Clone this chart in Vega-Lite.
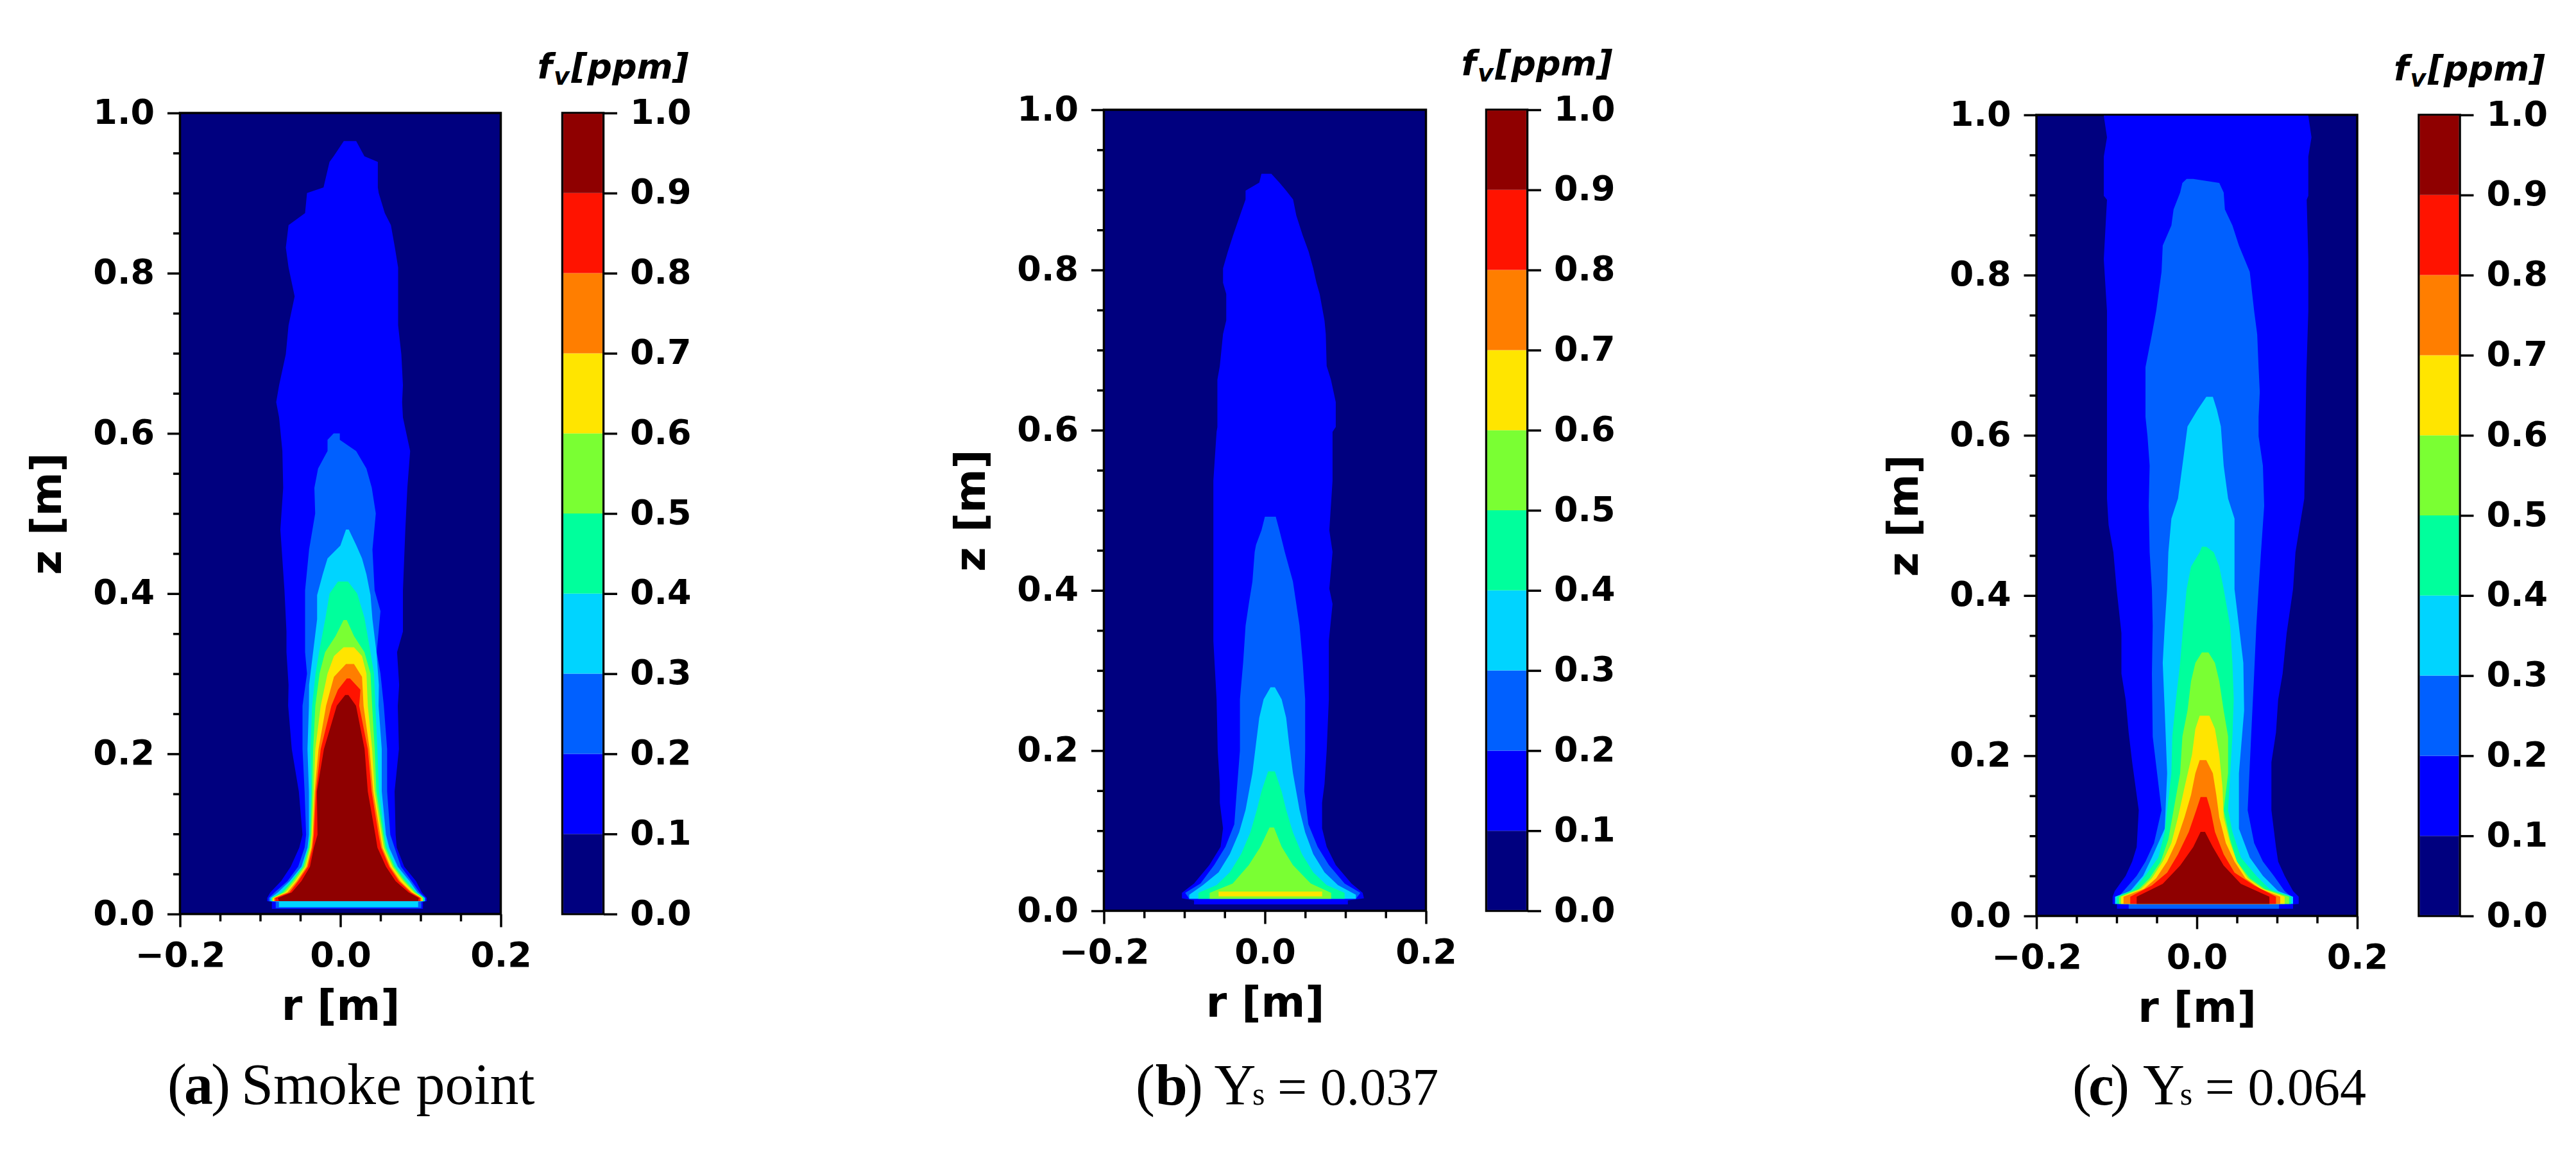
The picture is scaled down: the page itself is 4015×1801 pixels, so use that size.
{"$schema":"https://vega.github.io/schema/vega-lite/v6.json","background":"white","padding":{"left":39.5,"top":72,"right":0,"bottom":0},"bounds":"flush","spacing":2893.5,"config":{"view":{"stroke":null},"text":{"font":"Liberation Serif","fontSize":90,"align":"left","baseline":"alphabetic","color":"#000"},"axis":{"labelFont":"DejaVu Sans","labelFontWeight":"bold","labelFontSize":54,"labelColor":"#000","titleFont":"DejaVu Sans","titleFontWeight":"bold","titleFontSize":66,"titleColor":"#000","tickColor":"#000","tickWidth":3.5,"domain":false,"grid":false,"labelOverlap":false,"labelBound":false,"labelFlush":false,"tickRound":false}},"datasets":{"one":[{}],"colorbar":[{"fv":0,"low":0.001,"high":0.1},{"fv":0.1,"low":0.1,"high":0.2},{"fv":0.2,"low":0.2,"high":0.3},{"fv":0.3,"low":0.3,"high":0.4},{"fv":0.4,"low":0.4,"high":0.5},{"fv":0.5,"low":0.5,"high":0.6},{"fv":0.6,"low":0.6,"high":0.7},{"fv":0.7,"low":0.7,"high":0.8},{"fv":0.8,"low":0.8,"high":0.9},{"fv":0.9,"low":0.9,"high":0.999}],
"smoke_point":[
{"fv":0.1,"z":0.965,"rmin":0.0043,"rmax":0.0197},{"fv":0.1,"z":0.946,"rmin":-0.0084,"rmax":0.03},{"fv":0.1,"z":0.939,"rmin":-0.0135,"rmax":0.0467},{"fv":0.1,"z":0.907,"rmin":-0.021,"rmax":0.0467},{"fv":0.1,"z":0.9,"rmin":-0.0416,"rmax":0.0478},{"fv":0.1,"z":0.875,"rmin":-0.044,"rmax":0.0554},{"fv":0.1,"z":0.86,"rmin":-0.0646,"rmax":0.063},{"fv":0.1,"z":0.832,"rmin":-0.068,"rmax":0.068},{"fv":0.1,"z":0.807,"rmin":-0.0646,"rmax":0.072},{"fv":0.1,"z":0.771,"rmin":-0.057,"rmax":0.072},{"fv":0.1,"z":0.735,"rmin":-0.0646,"rmax":0.072},{"fv":0.1,"z":0.699,"rmin":-0.068,"rmax":0.076},{"fv":0.1,"z":0.66,"rmin":-0.0764,"rmax":0.078},{"fv":0.1,"z":0.639,"rmin":-0.08,"rmax":0.077},{"fv":0.1,"z":0.62,"rmin":-0.0764,"rmax":0.078},{"fv":0.1,"z":0.578,"rmin":-0.0723,"rmax":0.087},{"fv":0.1,"z":0.532,"rmin":-0.0713,"rmax":0.0835},{"fv":0.1,"z":0.48,"rmin":-0.0748,"rmax":0.081},{"fv":0.1,"z":0.404,"rmin":-0.0697,"rmax":0.078},{"fv":0.1,"z":0.3525,"rmin":-0.0672,"rmax":0.078},{"fv":0.1,"z":0.327,"rmin":-0.0672,"rmax":0.0707},{"fv":0.1,"z":0.286,"rmin":-0.0646,"rmax":0.0733},{"fv":0.1,"z":0.26,"rmin":-0.0651,"rmax":0.0716},{"fv":0.1,"z":0.206,"rmin":-0.0606,"rmax":0.073},{"fv":0.1,"z":0.153,"rmin":-0.0518,"rmax":0.0676},{"fv":0.1,"z":0.099,"rmin":-0.0472,"rmax":0.0689},{"fv":0.1,"z":0.083,"rmin":-0.0512,"rmax":0.0703},{"fv":0.1,"z":0.059,"rmin":-0.0619,"rmax":0.0796},{"fv":0.1,"z":0.041,"rmin":-0.0739,"rmax":0.0943},{"fv":0.1,"z":0.027,"rmin":-0.0873,"rmax":0.1015},{"fv":0.1,"z":0.02,"rmin":-0.0913,"rmax":0.1077},{"fv":0.1,"z":0.016,"rmin":-0.0913,"rmax":0.1077},{"fv":0.1,"z":0.0155,"rmin":-0.0854,"rmax":0.103},{"fv":0.1,"z":0.0065,"rmin":-0.0854,"rmax":0.103},
{"fv":0.2,"z":0.6,"rmin":-0.0084,"rmax":-0.0007},{"fv":0.2,"z":0.592,"rmin":-0.016,"rmax":-0.0007},{"fv":0.2,"z":0.578,"rmin":-0.016,"rmax":0.0197},{"fv":0.2,"z":0.556,"rmin":-0.0278,"rmax":0.0325},{"fv":0.2,"z":0.532,"rmin":-0.0324,"rmax":0.0392},{"fv":0.2,"z":0.5,"rmin":-0.0314,"rmax":0.0442},{"fv":0.2,"z":0.455,"rmin":-0.039,"rmax":0.04},{"fv":0.2,"z":0.404,"rmin":-0.044,"rmax":0.0427},{"fv":0.2,"z":0.378,"rmin":-0.044,"rmax":0.05},{"fv":0.2,"z":0.327,"rmin":-0.044,"rmax":0.0453},{"fv":0.2,"z":0.3,"rmin":-0.0416,"rmax":0.05},{"fv":0.2,"z":0.26,"rmin":-0.0472,"rmax":0.0542},{"fv":0.2,"z":0.206,"rmin":-0.0472,"rmax":0.0583},{"fv":0.2,"z":0.153,"rmin":-0.0446,"rmax":0.0583},{"fv":0.2,"z":0.099,"rmin":-0.0427,"rmax":0.0623},{"fv":0.2,"z":0.083,"rmin":-0.0446,"rmax":0.0676},{"fv":0.2,"z":0.059,"rmin":-0.0526,"rmax":0.0756},{"fv":0.2,"z":0.041,"rmin":-0.0659,"rmax":0.0889},{"fv":0.2,"z":0.027,"rmin":-0.0819,"rmax":0.0988},{"fv":0.2,"z":0.02,"rmin":-0.0894,"rmax":0.1063},{"fv":0.2,"z":0.016,"rmin":-0.0894,"rmax":0.1063},{"fv":0.2,"z":0.0155,"rmin":-0.0806,"rmax":0.101},{"fv":0.2,"z":0.0075,"rmin":-0.0806,"rmax":0.101},
{"fv":0.3,"z":0.48,"rmin":0.007,"rmax":0.0105},{"fv":0.3,"z":0.46,"rmin":0,"rmax":0.02},{"fv":0.3,"z":0.444,"rmin":-0.016,"rmax":0.027},{"fv":0.3,"z":0.424,"rmin":-0.022,"rmax":0.0325},{"fv":0.3,"z":0.398,"rmin":-0.029,"rmax":0.0376},{"fv":0.3,"z":0.368,"rmin":-0.029,"rmax":0.04},{"fv":0.3,"z":0.327,"rmin":-0.034,"rmax":0.045},{"fv":0.3,"z":0.286,"rmin":-0.039,"rmax":0.048},{"fv":0.3,"z":0.26,"rmin":-0.0392,"rmax":0.0476},{"fv":0.3,"z":0.206,"rmin":-0.041,"rmax":0.0516},{"fv":0.3,"z":0.153,"rmin":-0.0392,"rmax":0.0516},{"fv":0.3,"z":0.099,"rmin":-0.0392,"rmax":0.0569},{"fv":0.3,"z":0.083,"rmin":-0.041,"rmax":0.0609},{"fv":0.3,"z":0.059,"rmin":-0.0486,"rmax":0.0716},{"fv":0.3,"z":0.041,"rmin":-0.0632,"rmax":0.0863},{"fv":0.3,"z":0.027,"rmin":-0.0779,"rmax":0.0962},{"fv":0.3,"z":0.02,"rmin":-0.0873,"rmax":0.1052},{"fv":0.3,"z":0.016,"rmin":-0.0873,"rmax":0.1052},{"fv":0.3,"z":0.0155,"rmin":-0.0766,"rmax":0.097},{"fv":0.3,"z":0.0086,"rmin":-0.0766,"rmax":0.097},
{"fv":0.4,"z":0.415,"rmin":-0.003,"rmax":0.0095},{"fv":0.4,"z":0.4,"rmin":-0.0135,"rmax":0.021},{"fv":0.4,"z":0.37,"rmin":-0.0185,"rmax":0.03},{"fv":0.4,"z":0.33,"rmin":-0.026,"rmax":0.037},{"fv":0.4,"z":0.3,"rmin":-0.031,"rmax":0.042},{"fv":0.4,"z":0.26,"rmin":-0.0352,"rmax":0.0436},{"fv":0.4,"z":0.206,"rmin":-0.0373,"rmax":0.0462},{"fv":0.4,"z":0.153,"rmin":-0.0365,"rmax":0.0481},{"fv":0.4,"z":0.099,"rmin":-0.0381,"rmax":0.055},{"fv":0.4,"z":0.083,"rmin":-0.04,"rmax":0.0583},{"fv":0.4,"z":0.059,"rmin":-0.0472,"rmax":0.0689},{"fv":0.4,"z":0.041,"rmin":-0.0614,"rmax":0.0831},{"fv":0.4,"z":0.027,"rmin":-0.0739,"rmax":0.0951},{"fv":0.4,"z":0.02,"rmin":-0.0859,"rmax":0.1042},{"fv":0.4,"z":0.016,"rmin":-0.0859,"rmax":0.1042},
{"fv":0.5,"z":0.367,"rmin":0.004,"rmax":0.008},{"fv":0.5,"z":0.347,"rmin":-0.006,"rmax":0.017},{"fv":0.5,"z":0.327,"rmin":-0.019,"rmax":0.03},{"fv":0.5,"z":0.3,"rmin":-0.026,"rmax":0.0376},{"fv":0.5,"z":0.26,"rmin":-0.0312,"rmax":0.0396},{"fv":0.5,"z":0.206,"rmin":-0.0339,"rmax":0.0428},{"fv":0.5,"z":0.153,"rmin":-0.0352,"rmax":0.0449},{"fv":0.5,"z":0.099,"rmin":-0.0371,"rmax":0.0534},{"fv":0.5,"z":0.083,"rmin":-0.0389,"rmax":0.0561},{"fv":0.5,"z":0.059,"rmin":-0.0459,"rmax":0.0668},{"fv":0.5,"z":0.041,"rmin":-0.0592,"rmax":0.0804},{"fv":0.5,"z":0.027,"rmin":-0.0712,"rmax":0.0935},{"fv":0.5,"z":0.02,"rmin":-0.0851,"rmax":0.1031},{"fv":0.5,"z":0.016,"rmin":-0.0851,"rmax":0.1031},
{"fv":0.6,"z":0.333,"rmin":0.004,"rmax":0.017},{"fv":0.6,"z":0.322,"rmin":-0.008,"rmax":0.027},{"fv":0.6,"z":0.3,"rmin":-0.016,"rmax":0.0325},{"fv":0.6,"z":0.26,"rmin":-0.0245,"rmax":0.0342},{"fv":0.6,"z":0.206,"rmin":-0.0312,"rmax":0.0396},{"fv":0.6,"z":0.153,"rmin":-0.0331,"rmax":0.0428},{"fv":0.6,"z":0.099,"rmin":-0.0357,"rmax":0.0516},{"fv":0.6,"z":0.083,"rmin":-0.0373,"rmax":0.0542},{"fv":0.6,"z":0.059,"rmin":-0.0437,"rmax":0.0649},{"fv":0.6,"z":0.041,"rmin":-0.0566,"rmax":0.0783},{"fv":0.6,"z":0.027,"rmin":-0.0686,"rmax":0.0916},{"fv":0.6,"z":0.02,"rmin":-0.0841,"rmax":0.1023},{"fv":0.6,"z":0.016,"rmin":-0.0841,"rmax":0.1023},
{"fv":0.7,"z":0.312,"rmin":0.007,"rmax":0.017},{"fv":0.7,"z":0.296,"rmin":-0.008,"rmax":0.027},{"fv":0.7,"z":0.26,"rmin":-0.0178,"rmax":0.0289},{"fv":0.7,"z":0.206,"rmin":-0.0272,"rmax":0.0364},{"fv":0.7,"z":0.153,"rmin":-0.032,"rmax":0.0409},{"fv":0.7,"z":0.099,"rmin":-0.0344,"rmax":0.0497},{"fv":0.7,"z":0.083,"rmin":-0.036,"rmax":0.0524},{"fv":0.7,"z":0.059,"rmin":-0.0421,"rmax":0.0625},{"fv":0.7,"z":0.041,"rmin":-0.0544,"rmax":0.0748},{"fv":0.7,"z":0.027,"rmin":-0.0659,"rmax":0.0892},{"fv":0.7,"z":0.02,"rmin":-0.0827,"rmax":0.101},{"fv":0.7,"z":0.016,"rmin":-0.0827,"rmax":0.101},
{"fv":0.8,"z":0.294,"rmin":0.008,"rmax":0.012},{"fv":0.8,"z":0.28,"rmin":-0.003,"rmax":0.025},{"fv":0.8,"z":0.26,"rmin":-0.0112,"rmax":0.0235},{"fv":0.8,"z":0.206,"rmin":-0.0245,"rmax":0.0342},{"fv":0.8,"z":0.153,"rmin":-0.0304,"rmax":0.039},{"fv":0.8,"z":0.099,"rmin":-0.0331,"rmax":0.0476},{"fv":0.8,"z":0.083,"rmin":-0.0347,"rmax":0.0508},{"fv":0.8,"z":0.059,"rmin":-0.0405,"rmax":0.0609},{"fv":0.8,"z":0.041,"rmin":-0.0526,"rmax":0.0729},{"fv":0.8,"z":0.027,"rmin":-0.0632,"rmax":0.0876},{"fv":0.8,"z":0.02,"rmin":-0.0811,"rmax":0.0996},{"fv":0.8,"z":0.016,"rmin":-0.0811,"rmax":0.0996},
{"fv":0.9,"z":0.2735,"rmin":0.006,"rmax":0.01},{"fv":0.9,"z":0.26,"rmin":-0.0045,"rmax":0.0195},{"fv":0.9,"z":0.206,"rmin":-0.0205,"rmax":0.0302},{"fv":0.9,"z":0.153,"rmin":-0.0293,"rmax":0.0342},{"fv":0.9,"z":0.099,"rmin":-0.0285,"rmax":0.0436},{"fv":0.9,"z":0.083,"rmin":-0.0331,"rmax":0.0462},{"fv":0.9,"z":0.059,"rmin":-0.0379,"rmax":0.0569},{"fv":0.9,"z":0.041,"rmin":-0.0486,"rmax":0.0689},{"fv":0.9,"z":0.027,"rmin":-0.0606,"rmax":0.085},{"fv":0.9,"z":0.02,"rmin":-0.0779,"rmax":0.0978},{"fv":0.9,"z":0.016,"rmin":-0.0766,"rmax":0.097}],
"ys_037":[
{"fv":0.1,"z":0.92,"rmin":-0.0043,"rmax":0.008},{"fv":0.1,"z":0.909,"rmin":-0.007,"rmax":0.018},{"fv":0.1,"z":0.899,"rmin":-0.024,"rmax":0.0264},{"fv":0.1,"z":0.888,"rmin":-0.024,"rmax":0.035},{"fv":0.1,"z":0.868,"rmin":-0.031,"rmax":0.039},{"fv":0.1,"z":0.843,"rmin":-0.0396,"rmax":0.047},{"fv":0.1,"z":0.823,"rmin":-0.046,"rmax":0.0543},{"fv":0.1,"z":0.802,"rmin":-0.052,"rmax":0.06},{"fv":0.1,"z":0.784,"rmin":-0.052,"rmax":0.064},{"fv":0.1,"z":0.77,"rmin":-0.048,"rmax":0.068},{"fv":0.1,"z":0.737,"rmin":-0.048,"rmax":0.074},{"fv":0.1,"z":0.72,"rmin":-0.052,"rmax":0.0756},{"fv":0.1,"z":0.68,"rmin":-0.056,"rmax":0.0767},{"fv":0.1,"z":0.663,"rmin":-0.059,"rmax":0.082},{"fv":0.1,"z":0.635,"rmin":-0.059,"rmax":0.088},{"fv":0.1,"z":0.604,"rmin":-0.059,"rmax":0.088},{"fv":0.1,"z":0.598,"rmin":-0.06,"rmax":0.084},{"fv":0.1,"z":0.537,"rmin":-0.064,"rmax":0.084},{"fv":0.1,"z":0.475,"rmin":-0.064,"rmax":0.08},{"fv":0.1,"z":0.448,"rmin":-0.064,"rmax":0.084},{"fv":0.1,"z":0.402,"rmin":-0.064,"rmax":0.08},{"fv":0.1,"z":0.383,"rmin":-0.064,"rmax":0.084},{"fv":0.1,"z":0.337,"rmin":-0.064,"rmax":0.0794},{"fv":0.1,"z":0.264,"rmin":-0.06,"rmax":0.0794},{"fv":0.1,"z":0.2,"rmin":-0.0586,"rmax":0.0767},{"fv":0.1,"z":0.158,"rmin":-0.056,"rmax":0.074},{"fv":0.1,"z":0.135,"rmin":-0.056,"rmax":0.071},{"fv":0.1,"z":0.103,"rmin":-0.052,"rmax":0.071},{"fv":0.1,"z":0.08,"rmin":-0.055,"rmax":0.0767},{"fv":0.1,"z":0.057,"rmin":-0.069,"rmax":0.088},{"fv":0.1,"z":0.034,"rmin":-0.088,"rmax":0.1075},{"fv":0.1,"z":0.0225,"rmin":-0.103,"rmax":0.1214},{"fv":0.1,"z":0.0156,"rmin":-0.103,"rmax":0.123},{"fv":0.1,"z":0.013,"rmin":-0.088,"rmax":0.103},{"fv":0.1,"z":0.008,"rmin":-0.088,"rmax":0.103},
{"fv":0.2,"z":0.492,"rmin":0,"rmax":0.0135},{"fv":0.2,"z":0.475,"rmin":-0.0043,"rmax":0.018},{"fv":0.2,"z":0.457,"rmin":-0.011,"rmax":0.0225},{"fv":0.2,"z":0.448,"rmin":-0.0127,"rmax":0.0247},{"fv":0.2,"z":0.411,"rmin":-0.0155,"rmax":0.0348},{"fv":0.2,"z":0.383,"rmin":-0.02,"rmax":0.039},{"fv":0.2,"z":0.356,"rmin":-0.024,"rmax":0.043},{"fv":0.2,"z":0.31,"rmin":-0.027,"rmax":0.047},{"fv":0.2,"z":0.264,"rmin":-0.031,"rmax":0.05},{"fv":0.2,"z":0.2,"rmin":-0.031,"rmax":0.05},{"fv":0.2,"z":0.149,"rmin":-0.035,"rmax":0.049},{"fv":0.2,"z":0.108,"rmin":-0.038,"rmax":0.054},{"fv":0.2,"z":0.08,"rmin":-0.049,"rmax":0.0655},{"fv":0.2,"z":0.057,"rmin":-0.063,"rmax":0.0795},{"fv":0.2,"z":0.034,"rmin":-0.08,"rmax":0.099},{"fv":0.2,"z":0.0225,"rmin":-0.099,"rmax":0.1186},{"fv":0.2,"z":0.015,"rmin":-0.094,"rmax":0.113},
{"fv":0.3,"z":0.279,"rmin":0.007,"rmax":0.0124},{"fv":0.3,"z":0.264,"rmin":-0.0016,"rmax":0.0208},{"fv":0.3,"z":0.241,"rmin":-0.007,"rmax":0.0264},{"fv":0.3,"z":0.209,"rmin":-0.011,"rmax":0.03},{"fv":0.3,"z":0.172,"rmin":-0.0155,"rmax":0.0348},{"fv":0.3,"z":0.126,"rmin":-0.024,"rmax":0.043},{"fv":0.3,"z":0.098,"rmin":-0.032,"rmax":0.05},{"fv":0.3,"z":0.071,"rmin":-0.0435,"rmax":0.06},{"fv":0.3,"z":0.048,"rmin":-0.0575,"rmax":0.074},{"fv":0.3,"z":0.032,"rmin":-0.077,"rmax":0.0907},{"fv":0.3,"z":0.02,"rmin":-0.094,"rmax":0.113},{"fv":0.3,"z":0.015,"rmin":-0.094,"rmax":0.113},
{"fv":0.4,"z":0.174,"rmin":0.004,"rmax":0.0124},{"fv":0.4,"z":0.149,"rmin":-0.0043,"rmax":0.0208},{"fv":0.4,"z":0.126,"rmin":-0.01,"rmax":0.0264},{"fv":0.4,"z":0.098,"rmin":-0.018,"rmax":0.0348},{"fv":0.4,"z":0.071,"rmin":-0.0295,"rmax":0.046},{"fv":0.4,"z":0.048,"rmin":-0.0435,"rmax":0.06},{"fv":0.4,"z":0.032,"rmin":-0.06,"rmax":0.0767},{"fv":0.4,"z":0.0225,"rmin":-0.0826,"rmax":0.099},{"fv":0.4,"z":0.015,"rmin":-0.0826,"rmax":0.099},
{"fv":0.5,"z":0.104,"rmin":0.0057,"rmax":0.0113},{"fv":0.5,"z":0.08,"rmin":-0.0055,"rmax":0.0208},{"fv":0.5,"z":0.057,"rmin":-0.02,"rmax":0.0348},{"fv":0.5,"z":0.034,"rmin":-0.04,"rmax":0.057},{"fv":0.5,"z":0.0225,"rmin":-0.0686,"rmax":0.0823},{"fv":0.5,"z":0.015,"rmin":-0.0686,"rmax":0.0823},
{"fv":0.6,"z":0.024,"rmin":-0.0575,"rmax":0.0711},{"fv":0.6,"z":0.018,"rmin":-0.0575,"rmax":0.0711}],
"ys_064":[
{"fv":0.1,"z":0.999,"rmin":-0.116,"rmax":0.139},{"fv":0.1,"z":0.972,"rmin":-0.112,"rmax":0.143},{"fv":0.1,"z":0.948,"rmin":-0.116,"rmax":0.139},{"fv":0.1,"z":0.899,"rmin":-0.116,"rmax":0.139},{"fv":0.1,"z":0.894,"rmin":-0.112,"rmax":0.137},{"fv":0.1,"z":0.82,"rmin":-0.116,"rmax":0.139},{"fv":0.1,"z":0.755,"rmin":-0.112,"rmax":0.139},{"fv":0.1,"z":0.677,"rmin":-0.112,"rmax":0.1366},{"fv":0.1,"z":0.521,"rmin":-0.112,"rmax":0.134},{"fv":0.1,"z":0.488,"rmin":-0.11,"rmax":0.1285},{"fv":0.1,"z":0.454,"rmin":-0.104,"rmax":0.123},{"fv":0.1,"z":0.408,"rmin":-0.1,"rmax":0.12},{"fv":0.1,"z":0.353,"rmin":-0.094,"rmax":0.112},{"fv":0.1,"z":0.3025,"rmin":-0.094,"rmax":0.107},{"fv":0.1,"z":0.27,"rmin":-0.0887,"rmax":0.1014},{"fv":0.1,"z":0.229,"rmin":-0.085,"rmax":0.0987},{"fv":0.1,"z":0.192,"rmin":-0.0806,"rmax":0.093},{"fv":0.1,"z":0.132,"rmin":-0.0724,"rmax":0.093},{"fv":0.1,"z":0.086,"rmin":-0.075,"rmax":0.0987},{"fv":0.1,"z":0.068,"rmin":-0.0806,"rmax":0.1014},{"fv":0.1,"z":0.05,"rmin":-0.0887,"rmax":0.1095},{"fv":0.1,"z":0.031,"rmin":-0.1023,"rmax":0.12},{"fv":0.1,"z":0.024,"rmin":-0.105,"rmax":0.127},{"fv":0.1,"z":0.015,"rmin":-0.105,"rmax":0.127},{"fv":0.1,"z":0.0145,"rmin":-0.0995,"rmax":0.12},{"fv":0.1,"z":0.009,"rmin":-0.0995,"rmax":0.12},
{"fv":0.2,"z":0.92,"rmin":-0.0127,"rmax":-0.0045},{"fv":0.2,"z":0.915,"rmin":-0.018,"rmax":0.028},{"fv":0.2,"z":0.903,"rmin":-0.0208,"rmax":0.0335},{"fv":0.2,"z":0.882,"rmin":-0.029,"rmax":0.035},{"fv":0.2,"z":0.862,"rmin":-0.0317,"rmax":0.0444},{"fv":0.2,"z":0.837,"rmin":-0.0425,"rmax":0.0525},{"fv":0.2,"z":0.804,"rmin":-0.044,"rmax":0.066},{"fv":0.2,"z":0.755,"rmin":-0.0507,"rmax":0.0715},{"fv":0.2,"z":0.726,"rmin":-0.056,"rmax":0.0753},{"fv":0.2,"z":0.685,"rmin":-0.064,"rmax":0.077},{"fv":0.2,"z":0.654,"rmin":-0.064,"rmax":0.0785},{"fv":0.2,"z":0.623,"rmin":-0.064,"rmax":0.077},{"fv":0.2,"z":0.599,"rmin":-0.0615,"rmax":0.077},{"fv":0.2,"z":0.562,"rmin":-0.0588,"rmax":0.0824},{"fv":0.2,"z":0.512,"rmin":-0.06,"rmax":0.084},{"fv":0.2,"z":0.454,"rmin":-0.0588,"rmax":0.08},{"fv":0.2,"z":0.408,"rmin":-0.056,"rmax":0.077},{"fv":0.2,"z":0.362,"rmin":-0.055,"rmax":0.0742},{"fv":0.2,"z":0.3025,"rmin":-0.056,"rmax":0.0715},{"fv":0.2,"z":0.224,"rmin":-0.055,"rmax":0.0677},{"fv":0.2,"z":0.132,"rmin":-0.044,"rmax":0.0634},{"fv":0.2,"z":0.091,"rmin":-0.0534,"rmax":0.0715},{"fv":0.2,"z":0.068,"rmin":-0.064,"rmax":0.0824},{"fv":0.2,"z":0.05,"rmin":-0.075,"rmax":0.096},{"fv":0.2,"z":0.031,"rmin":-0.0914,"rmax":0.1095},{"fv":0.2,"z":0.022,"rmin":-0.0995,"rmax":0.12},{"fv":0.2,"z":0.0155,"rmin":-0.0995,"rmax":0.12},{"fv":0.2,"z":0.015,"rmin":-0.085,"rmax":0.1025},{"fv":0.2,"z":0.009,"rmin":-0.085,"rmax":0.1025},
{"fv":0.3,"z":0.648,"rmin":0.0118,"rmax":0.02},{"fv":0.3,"z":0.632,"rmin":0.001,"rmax":0.025},{"fv":0.3,"z":0.611,"rmin":-0.0116,"rmax":0.03},{"fv":0.3,"z":0.562,"rmin":-0.018,"rmax":0.0335},{"fv":0.3,"z":0.521,"rmin":-0.0235,"rmax":0.039},{"fv":0.3,"z":0.496,"rmin":-0.0317,"rmax":0.047},{"fv":0.3,"z":0.454,"rmin":-0.0355,"rmax":0.047},{"fv":0.3,"z":0.408,"rmin":-0.037,"rmax":0.047},{"fv":0.3,"z":0.362,"rmin":-0.04,"rmax":0.0525},{"fv":0.3,"z":0.316,"rmin":-0.0425,"rmax":0.058},{"fv":0.3,"z":0.2565,"rmin":-0.04,"rmax":0.059},{"fv":0.3,"z":0.178,"rmin":-0.037,"rmax":0.0525},{"fv":0.3,"z":0.109,"rmin":-0.04,"rmax":0.0525},{"fv":0.3,"z":0.073,"rmin":-0.056,"rmax":0.066},{"fv":0.3,"z":0.05,"rmin":-0.067,"rmax":0.0824},{"fv":0.3,"z":0.031,"rmin":-0.083,"rmax":0.1014},{"fv":0.3,"z":0.024,"rmin":-0.102,"rmax":0.12},{"fv":0.3,"z":0.015,"rmin":-0.102,"rmax":0.12},
{"fv":0.4,"z":0.461,"rmin":0.0063,"rmax":0.0118},{"fv":0.4,"z":0.454,"rmin":0.0036,"rmax":0.0212},{"fv":0.4,"z":0.436,"rmin":-0.0072,"rmax":0.028},{"fv":0.4,"z":0.408,"rmin":-0.0127,"rmax":0.0335},{"fv":0.4,"z":0.362,"rmin":-0.017,"rmax":0.0416},{"fv":0.4,"z":0.316,"rmin":-0.0208,"rmax":0.0444},{"fv":0.4,"z":0.27,"rmin":-0.026,"rmax":0.046},{"fv":0.4,"z":0.224,"rmin":-0.0306,"rmax":0.0444},{"fv":0.4,"z":0.178,"rmin":-0.0317,"rmax":0.0416},{"fv":0.4,"z":0.132,"rmin":-0.037,"rmax":0.039},{"fv":0.4,"z":0.105,"rmin":-0.04,"rmax":0.0444},{"fv":0.4,"z":0.073,"rmin":-0.048,"rmax":0.055},{"fv":0.4,"z":0.05,"rmin":-0.0643,"rmax":0.0742},{"fv":0.4,"z":0.0336,"rmin":-0.078,"rmax":0.0905},{"fv":0.4,"z":0.024,"rmin":-0.0995,"rmax":0.1177},{"fv":0.4,"z":0.015,"rmin":-0.0995,"rmax":0.1177},
{"fv":0.5,"z":0.329,"rmin":0.0063,"rmax":0.0145},{"fv":0.5,"z":0.316,"rmin":-0.0018,"rmax":0.0226},{"fv":0.5,"z":0.293,"rmin":-0.0072,"rmax":0.028},{"fv":0.5,"z":0.2565,"rmin":-0.0116,"rmax":0.0335},{"fv":0.5,"z":0.224,"rmin":-0.018,"rmax":0.039},{"fv":0.5,"z":0.178,"rmin":-0.0208,"rmax":0.039},{"fv":0.5,"z":0.132,"rmin":-0.029,"rmax":0.0335},{"fv":0.5,"z":0.0956,"rmin":-0.0355,"rmax":0.0416},{"fv":0.5,"z":0.068,"rmin":-0.045,"rmax":0.05},{"fv":0.5,"z":0.047,"rmin":-0.059,"rmax":0.066},{"fv":0.5,"z":0.0336,"rmin":-0.0724,"rmax":0.085},{"fv":0.5,"z":0.024,"rmin":-0.097,"rmax":0.115},{"fv":0.5,"z":0.015,"rmin":-0.097,"rmax":0.115},
{"fv":0.6,"z":0.25,"rmin":0.0036,"rmax":0.0156},{"fv":0.6,"z":0.2336,"rmin":-0.0018,"rmax":0.0226},{"fv":0.6,"z":0.2014,"rmin":-0.006,"rmax":0.028},{"fv":0.6,"z":0.16,"rmin":-0.0154,"rmax":0.032},{"fv":0.6,"z":0.123,"rmin":-0.0235,"rmax":0.0335},{"fv":0.6,"z":0.091,"rmin":-0.0317,"rmax":0.0416},{"fv":0.6,"z":0.068,"rmin":-0.0425,"rmax":0.05},{"fv":0.6,"z":0.047,"rmin":-0.056,"rmax":0.0634},{"fv":0.6,"z":0.0336,"rmin":-0.0697,"rmax":0.0824},{"fv":0.6,"z":0.024,"rmin":-0.0944,"rmax":0.1095},{"fv":0.6,"z":0.015,"rmin":-0.0944,"rmax":0.1095},
{"fv":0.7,"z":0.1945,"rmin":0.0036,"rmax":0.0118},{"fv":0.7,"z":0.178,"rmin":-0.0018,"rmax":0.02},{"fv":0.7,"z":0.151,"rmin":-0.0072,"rmax":0.0243},{"fv":0.7,"z":0.123,"rmin":-0.0154,"rmax":0.028},{"fv":0.7,"z":0.091,"rmin":-0.0262,"rmax":0.0362},{"fv":0.7,"z":0.068,"rmin":-0.037,"rmax":0.047},{"fv":0.7,"z":0.047,"rmin":-0.0507,"rmax":0.0606},{"fv":0.7,"z":0.0336,"rmin":-0.0659,"rmax":0.0796},{"fv":0.7,"z":0.024,"rmin":-0.0914,"rmax":0.104},{"fv":0.7,"z":0.015,"rmin":-0.0914,"rmax":0.104},
{"fv":0.8,"z":0.1485,"rmin":0.0047,"rmax":0.0123},{"fv":0.8,"z":0.132,"rmin":-0.0007,"rmax":0.0172},{"fv":0.8,"z":0.105,"rmin":-0.01,"rmax":0.0226},{"fv":0.8,"z":0.077,"rmin":-0.0235,"rmax":0.0335},{"fv":0.8,"z":0.054,"rmin":-0.037,"rmax":0.047},{"fv":0.8,"z":0.038,"rmin":-0.056,"rmax":0.0715},{"fv":0.8,"z":0.024,"rmin":-0.083,"rmax":0.0987},{"fv":0.8,"z":0.015,"rmin":-0.083,"rmax":0.0987},
{"fv":0.9,"z":0.105,"rmin":0.0047,"rmax":0.0102},{"fv":0.9,"z":0.086,"rmin":-0.0045,"rmax":0.02},{"fv":0.9,"z":0.063,"rmin":-0.0208,"rmax":0.0335},{"fv":0.9,"z":0.04,"rmin":-0.0425,"rmax":0.055},{"fv":0.9,"z":0.024,"rmin":-0.075,"rmax":0.0905},{"fv":0.9,"z":0.015,"rmin":-0.075,"rmax":0.0905}]},
"hconcat":[
{"bounds":"flush","spacing":1440,"hconcat":[
{"bounds":"flush","spacing":0,"vconcat":[{"width":10,"height":6,"data":{"values":[]},"mark":"rect"},{"bounds":"flush","spacing":96,"hconcat":[
{"width":500,"height":1248,"view":{"fill":"#00007f","stroke":"#000","strokeWidth":3.5},"layer":[
{"data":{"name":"smoke_point"},"mark":{"type":"area","orient":"horizontal","interpolate":"linear"},"encoding":{"y":{"field":"z","type":"quantitative","title":"z [m]","scale":{"domain":[0,1],"nice":false,"zero":false},"axis":{"values":[0,0.025,0.05,0.075,0.1,0.125,0.15,0.175,0.2,0.225,0.25,0.275,0.3,0.325,0.35,0.375,0.4,0.425,0.45,0.475,0.5,0.525,0.55,0.575,0.6,0.625,0.65,0.675,0.7,0.725,0.75,0.775,0.8,0.825,0.85,0.875,0.9,0.925,0.95,0.975,1],"labelExpr":"abs(datum.value*5-round(datum.value*5))<0.001 ? format(datum.value,'.1f') : ''","tickSize":{"condition":{"test":"abs(datum.value*5-round(datum.value*5))<0.001","value":20},"value":11},"labelPadding":20,"titlePadding":36}},"x":{"field":"rmin","type":"quantitative","stack":null,"title":"r [m]","scale":{"domain":[-0.2,0.2],"nice":false,"zero":false},"axis":{"values":[-0.2,-0.15,-0.1,-0.05,0,0.05,0.1,0.15,0.2],"labelExpr":"abs(datum.value)<0.001 ? '0.0' : abs(abs(datum.value)-0.2)<0.001 ? (datum.value<0 ? '−0.2' : '0.2') : ''","tickSize":{"condition":{"test":"abs(abs(datum.value)-0.1)>0.001 && abs(abs(datum.value)-0.05)>0.001 && abs(abs(datum.value)-0.15)>0.001","value":20},"value":11},"labelPadding":18,"titlePadding":20}},"x2":{"field":"rmax"},"color":{"field":"fv","type":"ordinal","legend":null,"scale":{"domain":[0,0.1,0.2,0.3,0.4,0.5,0.6,0.7,0.8,0.9],"range":["#00007f","#0000ff","#0060ff","#00d4ff","#00ff9c","#7aff33","#ffe500","#ff7e00","#ff1300","#8f0000"]}}}},
{"data":{"name":"one"},"mark":{"type":"text","text":"("},"encoding":{"x":{"datum":-0.2156},"y":{"datum":-0.2372}}},
{"data":{"name":"one"},"mark":{"type":"text","text":"a","fontWeight":"bold"},"encoding":{"x":{"datum":-0.1948},"y":{"datum":-0.2372}}},
{"data":{"name":"one"},"mark":{"type":"text","text":")"},"encoding":{"x":{"datum":-0.1612},"y":{"datum":-0.2372}}},
{"data":{"name":"one"},"mark":{"type":"text","text":"Smoke point"},"encoding":{"x":{"datum":-0.1236},"y":{"datum":-0.2372}}}
]},
{"width":64,"height":1248,"view":{"stroke":"#000","strokeWidth":3.5},"layer":[
{"data":{"name":"colorbar"},"mark":"rect","encoding":{"x":{"datum":0.025,"scale":{"domain":[0,1],"nice":false,"zero":false},"axis":null},"x2":{"datum":0.975},"y":{"field":"low","type":"quantitative","title":null,"scale":{"domain":[0,1],"nice":false,"zero":false},"axis":{"orient":"right","values":[0,0.1,0.2,0.3,0.4,0.5,0.6,0.7,0.8,0.9,1],"format":".1f","tickSize":21,"labelPadding":20}},"y2":{"field":"high"},"color":{"field":"fv","type":"ordinal","legend":null,"scale":{"domain":[0,0.1,0.2,0.3,0.4,0.5,0.6,0.7,0.8,0.9],"range":["#00007f","#0000ff","#0060ff","#00d4ff","#00ff9c","#7aff33","#ffe500","#ff7e00","#ff1300","#8f0000"]}}}},
{"data":{"name":"one"},"mark":{"type":"text","text":"f","font":"DejaVu Sans","fontWeight":"bold","fontStyle":"italic","fontSize":54},"encoding":{"x":{"datum":-0.61,"axis":null},"y":{"datum":1.043}}},
{"data":{"name":"one"},"mark":{"type":"text","text":"v","font":"DejaVu Sans","fontWeight":"bold","fontStyle":"italic","fontSize":38},"encoding":{"x":{"datum":-0.21,"axis":null},"y":{"datum":1.035}}},
{"data":{"name":"one"},"mark":{"type":"text","text":"[ppm]","font":"DejaVu Sans","fontWeight":"bold","fontStyle":"italic","fontSize":54},"encoding":{"x":{"datum":0.22,"axis":null},"y":{"datum":1.043}}}
]}]}]},
{"bounds":"flush","spacing":0,"vconcat":[{"width":10,"height":1,"data":{"values":[]},"mark":"rect"},{"bounds":"flush","spacing":94,"hconcat":[
{"width":502,"height":1248,"view":{"fill":"#00007f","stroke":"#000","strokeWidth":3.5},"layer":[
{"data":{"name":"ys_037"},"mark":{"type":"area","orient":"horizontal","interpolate":"linear"},"encoding":{"y":{"field":"z","type":"quantitative","title":"z [m]","scale":{"domain":[0,1],"nice":false,"zero":false},"axis":{"values":[0,0.025,0.05,0.075,0.1,0.125,0.15,0.175,0.2,0.225,0.25,0.275,0.3,0.325,0.35,0.375,0.4,0.425,0.45,0.475,0.5,0.525,0.55,0.575,0.6,0.625,0.65,0.675,0.7,0.725,0.75,0.775,0.8,0.825,0.85,0.875,0.9,0.925,0.95,0.975,1],"labelExpr":"abs(datum.value*5-round(datum.value*5))<0.001 ? format(datum.value,'.1f') : ''","tickSize":{"condition":{"test":"abs(datum.value*5-round(datum.value*5))<0.001","value":20},"value":11},"labelPadding":20,"titlePadding":36}},"x":{"field":"rmin","type":"quantitative","stack":null,"title":"r [m]","scale":{"domain":[-0.2,0.2],"nice":false,"zero":false},"axis":{"values":[-0.2,-0.15,-0.1,-0.05,0,0.05,0.1,0.15,0.2],"labelExpr":"abs(datum.value)<0.001 ? '0.0' : abs(abs(datum.value)-0.2)<0.001 ? (datum.value<0 ? '−0.2' : '0.2') : ''","tickSize":{"condition":{"test":"abs(abs(datum.value)-0.1)>0.001 && abs(abs(datum.value)-0.05)>0.001 && abs(abs(datum.value)-0.15)>0.001","value":20},"value":11},"labelPadding":18,"titlePadding":20}},"x2":{"field":"rmax"},"color":{"field":"fv","type":"ordinal","legend":null,"scale":{"domain":[0,0.1,0.2,0.3,0.4,0.5,0.6,0.7,0.8,0.9],"range":["#00007f","#0000ff","#0060ff","#00d4ff","#00ff9c","#7aff33","#ffe500","#ff7e00","#ff1300","#8f0000"]}}}},
{"data":{"name":"one"},"mark":{"type":"text","text":"("},"encoding":{"x":{"datum":-0.1606},"y":{"datum":-0.242}}},
{"data":{"name":"one"},"mark":{"type":"text","text":"b","fontWeight":"bold"},"encoding":{"x":{"datum":-0.136},"y":{"datum":-0.242}}},
{"data":{"name":"one"},"mark":{"type":"text","text":")"},"encoding":{"x":{"datum":-0.1007},"y":{"datum":-0.242}}},
{"data":{"name":"one"},"mark":{"type":"text","text":"Y"},"encoding":{"x":{"datum":-0.063},"y":{"datum":-0.242}}},
{"data":{"name":"one"},"mark":{"type":"text","text":"s","fontSize":50},"encoding":{"x":{"datum":-0.0155},"y":{"datum":-0.242}}},
{"data":{"name":"one"},"mark":{"type":"text","text":"= 0.037","fontSize":82},"encoding":{"x":{"datum":0.0155},"y":{"datum":-0.242}}}
]},
{"width":64,"height":1248,"view":{"stroke":"#000","strokeWidth":3.5},"layer":[
{"data":{"name":"colorbar"},"mark":"rect","encoding":{"x":{"datum":0.025,"scale":{"domain":[0,1],"nice":false,"zero":false},"axis":null},"x2":{"datum":0.975},"y":{"field":"low","type":"quantitative","title":null,"scale":{"domain":[0,1],"nice":false,"zero":false},"axis":{"orient":"right","values":[0,0.1,0.2,0.3,0.4,0.5,0.6,0.7,0.8,0.9,1],"format":".1f","tickSize":21,"labelPadding":20}},"y2":{"field":"high"},"color":{"field":"fv","type":"ordinal","legend":null,"scale":{"domain":[0,0.1,0.2,0.3,0.4,0.5,0.6,0.7,0.8,0.9],"range":["#00007f","#0000ff","#0060ff","#00d4ff","#00ff9c","#7aff33","#ffe500","#ff7e00","#ff1300","#8f0000"]}}}},
{"data":{"name":"one"},"mark":{"type":"text","text":"f","font":"DejaVu Sans","fontWeight":"bold","fontStyle":"italic","fontSize":54},"encoding":{"x":{"datum":-0.61,"axis":null},"y":{"datum":1.043}}},
{"data":{"name":"one"},"mark":{"type":"text","text":"v","font":"DejaVu Sans","fontWeight":"bold","fontStyle":"italic","fontSize":38},"encoding":{"x":{"datum":-0.21,"axis":null},"y":{"datum":1.035}}},
{"data":{"name":"one"},"mark":{"type":"text","text":"[ppm]","font":"DejaVu Sans","fontWeight":"bold","fontStyle":"italic","fontSize":54},"encoding":{"x":{"datum":0.22,"axis":null},"y":{"datum":1.043}}}
]}]}]}
]},
{"bounds":"flush","spacing":0,"vconcat":[{"width":10,"height":9,"data":{"values":[]},"mark":"rect"},{"bounds":"flush","spacing":96,"hconcat":[
{"width":500,"height":1248,"view":{"fill":"#00007f","stroke":"#000","strokeWidth":3.5},"layer":[
{"data":{"name":"ys_064"},"mark":{"type":"area","orient":"horizontal","interpolate":"linear"},"encoding":{"y":{"field":"z","type":"quantitative","title":"z [m]","scale":{"domain":[0,1],"nice":false,"zero":false},"axis":{"values":[0,0.025,0.05,0.075,0.1,0.125,0.15,0.175,0.2,0.225,0.25,0.275,0.3,0.325,0.35,0.375,0.4,0.425,0.45,0.475,0.5,0.525,0.55,0.575,0.6,0.625,0.65,0.675,0.7,0.725,0.75,0.775,0.8,0.825,0.85,0.875,0.9,0.925,0.95,0.975,1],"labelExpr":"abs(datum.value*5-round(datum.value*5))<0.001 ? format(datum.value,'.1f') : ''","tickSize":{"condition":{"test":"abs(datum.value*5-round(datum.value*5))<0.001","value":20},"value":11},"labelPadding":20,"titlePadding":36}},"x":{"field":"rmin","type":"quantitative","stack":null,"title":"r [m]","scale":{"domain":[-0.2,0.2],"nice":false,"zero":false},"axis":{"values":[-0.2,-0.15,-0.1,-0.05,0,0.05,0.1,0.15,0.2],"labelExpr":"abs(datum.value)<0.001 ? '0.0' : abs(abs(datum.value)-0.2)<0.001 ? (datum.value<0 ? '−0.2' : '0.2') : ''","tickSize":{"condition":{"test":"abs(abs(datum.value)-0.1)>0.001 && abs(abs(datum.value)-0.05)>0.001 && abs(abs(datum.value)-0.15)>0.001","value":20},"value":11},"labelPadding":18,"titlePadding":20}},"x2":{"field":"rmax"},"color":{"field":"fv","type":"ordinal","legend":null,"scale":{"domain":[0,0.1,0.2,0.3,0.4,0.5,0.6,0.7,0.8,0.9],"range":["#00007f","#0000ff","#0060ff","#00d4ff","#00ff9c","#7aff33","#ffe500","#ff7e00","#ff1300","#8f0000"]}}}},
{"data":{"name":"one"},"mark":{"type":"text","text":"("},"encoding":{"x":{"datum":-0.1552},"y":{"datum":-0.2356}}},
{"data":{"name":"one"},"mark":{"type":"text","text":"c","fontWeight":"bold"},"encoding":{"x":{"datum":-0.1353},"y":{"datum":-0.2356}}},
{"data":{"name":"one"},"mark":{"type":"text","text":")"},"encoding":{"x":{"datum":-0.108},"y":{"datum":-0.2356}}},
{"data":{"name":"one"},"mark":{"type":"text","text":"Y"},"encoding":{"x":{"datum":-0.0673},"y":{"datum":-0.2356}}},
{"data":{"name":"one"},"mark":{"type":"text","text":"s","fontSize":50},"encoding":{"x":{"datum":-0.021},"y":{"datum":-0.2356}}},
{"data":{"name":"one"},"mark":{"type":"text","text":"= 0.064","fontSize":82},"encoding":{"x":{"datum":0.0102},"y":{"datum":-0.2356}}}
]},
{"width":64,"height":1248,"view":{"stroke":"#000","strokeWidth":3.5},"layer":[
{"data":{"name":"colorbar"},"mark":"rect","encoding":{"x":{"datum":0.025,"scale":{"domain":[0,1],"nice":false,"zero":false},"axis":null},"x2":{"datum":0.975},"y":{"field":"low","type":"quantitative","title":null,"scale":{"domain":[0,1],"nice":false,"zero":false},"axis":{"orient":"right","values":[0,0.1,0.2,0.3,0.4,0.5,0.6,0.7,0.8,0.9,1],"format":".1f","tickSize":21,"labelPadding":20}},"y2":{"field":"high"},"color":{"field":"fv","type":"ordinal","legend":null,"scale":{"domain":[0,0.1,0.2,0.3,0.4,0.5,0.6,0.7,0.8,0.9],"range":["#00007f","#0000ff","#0060ff","#00d4ff","#00ff9c","#7aff33","#ffe500","#ff7e00","#ff1300","#8f0000"]}}}},
{"data":{"name":"one"},"mark":{"type":"text","text":"f","font":"DejaVu Sans","fontWeight":"bold","fontStyle":"italic","fontSize":54},"encoding":{"x":{"datum":-0.61,"axis":null},"y":{"datum":1.043}}},
{"data":{"name":"one"},"mark":{"type":"text","text":"v","font":"DejaVu Sans","fontWeight":"bold","fontStyle":"italic","fontSize":38},"encoding":{"x":{"datum":-0.21,"axis":null},"y":{"datum":1.035}}},
{"data":{"name":"one"},"mark":{"type":"text","text":"[ppm]","font":"DejaVu Sans","fontWeight":"bold","fontStyle":"italic","fontSize":54},"encoding":{"x":{"datum":0.22,"axis":null},"y":{"datum":1.043}}}
]}]}]}
]}
